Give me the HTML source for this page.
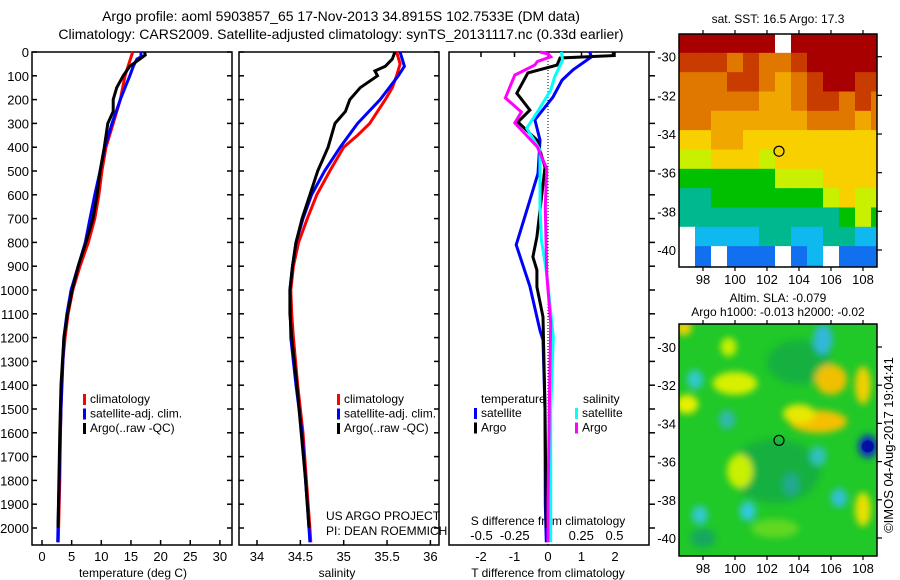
<!DOCTYPE html>
<html><head><meta charset="utf-8">
<style>
html,body{margin:0;padding:0;background:#fff;}
svg{display:block;font-family:"Liberation Sans",sans-serif;}
text{fill:#000;}
</style></head>
<body>
<svg id="chart" width="900" height="580" viewBox="0 0 900 580" xmlns="http://www.w3.org/2000/svg">
<defs>
<clipPath id="clipTop"><rect x="679" y="34" width="198" height="233"/></clipPath>
<clipPath id="clipBot"><rect x="679" y="324" width="198" height="232"/></clipPath>
<filter id="blur" x="-50%" y="-50%" width="200%" height="200%"><feGaussianBlur stdDeviation="3.5"/></filter>
</defs>
<text x="341" y="21" font-size="14" text-anchor="middle">Argo profile: aoml 5903857_65 17-Nov-2013 34.8915S 102.7533E (DM data)</text>
<text x="341" y="39" font-size="14" text-anchor="middle">Climatology: CARS2009. Satellite-adjusted climatology: synTS_20131117.nc (0.33d earlier)</text>
<g id="g"></g>
</svg>
<script>
// ---------- data ----------
const tempClimDepth = [0,100,200,300,400,500,600,700,800,900,1000,1100,1200,1300,1400,1500,1600,1800,2000,2060];
const tempClim      = [15.3,14.0,13.2,12.0,10.8,10.1,9.6,8.9,7.8,6.4,5.2,4.4,3.9,3.5,3.3,3.2,3.1,3.0,2.8,2.75];
const tempSatDepth  = [0,20,30,60,100,150,200,300,400,500,600,700,800,900,1000,1100,1200,1500,2000,2060];
const tempSat       = [16.7,16.7,16.0,15.4,14.8,14.0,13.2,11.8,10.6,9.8,8.9,8.1,7.3,6.1,4.9,4.2,3.7,3.2,2.7,2.65];
const tempArgoDepth = [0,13,60,100,150,200,250,300,400,500,600,700,800,900,1000,1100,1200,1400,1600,2000];
const tempArgo      = [17.3,17.4,14.8,13.7,12.6,12.0,12.0,11.1,10.5,9.8,9.3,8.6,7.4,6.1,5.1,4.3,3.7,3.2,3.0,2.7];

const salClimDepth = [0,50,100,150,200,300,350,400,500,600,700,800,900,1000,1100,1200,1400,1600,1800,2000,2060];
const salClim      = [35.61,35.65,35.61,35.56,35.48,35.30,35.16,35.00,34.84,34.69,34.58,34.48,34.42,34.39,34.40,34.42,34.47,34.53,34.57,34.61,34.62];
const salSatDepth  = [0,60,100,200,300,400,500,600,700,800,900,1000,1200,1400,1600,2000,2060];
const salSat       = [35.65,35.70,35.63,35.42,35.16,34.96,34.78,34.63,34.53,34.45,34.41,34.38,34.39,34.45,34.52,34.60,34.61];
const salArgoDepth = [0,30,60,80,100,150,200,250,300,400,500,600,700,800,900,1000,1100,1200,1400,1600,1800,2000];
const salArgo      = [35.59,35.56,35.48,35.36,35.39,35.19,35.07,35.02,34.90,34.82,34.70,34.61,34.52,34.45,34.41,34.38,34.38,34.40,34.46,34.51,34.56,34.60];

const dTSatDepth  = [0,3,20,75,118,189,285,370,510,650,810,985,1170,1210,1500,1900,2060];
const dTSat       = [1.25,1.25,1.3,0.75,0.42,0.15,-0.39,-0.24,-0.3,-0.6,-0.95,-0.54,-0.24,-0.15,-0.09,-0.08,-0.05];
const dTArgoDepth = [0,15,25,55,88,173,244,294,370,483,593,777,861,916,987,1113,1500,1900,2000];
const dTArgo      = [1.95,1.95,0.36,0.27,-0.6,-0.93,-0.54,-0.9,-0.33,-0.09,-0.18,-0.33,-0.45,-0.33,-0.33,-0.15,-0.09,-0.06,-0.05];
const dSSatDepth  = [0,35,105,160,252,320,412,650,790,930,1197,1500,1900,2060];
const dSSat       = [0.10,0.11,0.05,0.02,-0.08,-0.16,-0.06,-0.06,-0.05,-0.01,0.04,0.02,0.02,0.02];
const dSArgoDepth = [0,8,20,40,55,97,193,252,298,399,490,650,930,1140,1500,1900,2060];
const dSArgo      = [-0.06,0.0,0.02,-0.08,-0.10,-0.25,-0.32,-0.20,-0.25,-0.08,-0.01,-0.02,-0.01,0.02,0.01,0.0,0.0];

const depthTicks = [0,100,200,300,400,500,600,700,800,900,1000,1100,1200,1300,1400,1500,1600,1700,1800,1900,2000];
const tempTicks = [0,5,10,15,20,25,30];
const salTicks = [34,34.5,35,35.5,36];
const salTickLabels = ["34","34.5","35","35.5","36"];
const dTTicks = [-2,-1,0,1,2];
const dSTicks = [-0.5,-0.25,0,0.25,0.5];
const dSTickLabels = ["-0.5","-0.25","0","0.25","0.5"];

const sstGrid = [
[10,10,10,10,10,10,-1,10,10,10,10,10,10],
[9,9,9,8,9,8,8,9,10,10,10,10,10],
[8,8,8,9,9,8,7,8,9,10,10,9,9],
[8,8,8,8,8,7,7,8,9,9,8,9,8],
[8,8,7,7,7,7,7,7,8,8,8,7,8],
[6,6,7,7,6,6,6,6,6,6,6,6,6],
[5,5,6,6,6,5,6,6,6,6,6,6,6],
[4,4,4,4,4,4,5,5,5,6,6,6,6],
[3,3,4,4,4,4,4,4,4,5,6,5,5],
[3,3,3,3,3,3,3,3,3,3,4,5,4],
[-1,2,2,2,2,3,3,2,2,3,3,2,2],
[-1,1,-1,1,1,1,-1,1,2,-1,1,1,1],
[-1,1,-1,1,1,1,-1,1,1,-1,1,1,1]];
const sstColors = ["#ffffff","#1070f0","#10b8f0","#00b890","#00c000","#c8f000","#f8d000","#f0a800","#e07800","#c83c00","#a80000"];

const slaBlobLon = [100,97,105.2,106,108,108.3,97.5,105.5,99.5,97.8,100.8,106.5,105.2,103.5,100.3,108,99.6,96.8,104,102.5,98];
const slaBlobLat = [-31.9,-33,-33.9,-31.7,-32,-35.2,-31.7,-29.6,-33.8,-38.8,-38.6,-37.9,-35.7,-37.2,-36.5,-38.5,-30,-29,-33.5,-39.5,-40];
const slaBlobRx  = [1.4,0.7,1.8,1.0,0.5,0.6,0.5,0.6,0.5,0.5,0.5,0.5,0.5,0.5,0.8,0.5,0.5,0.5,1.0,1.5,0.8];
const slaBlobRy  = [0.6,0.5,0.6,0.8,1.0,0.6,0.5,0.8,0.5,0.5,0.5,0.5,0.5,0.6,0.9,0.9,0.5,0.4,0.5,0.5,0.5];
const slaBlobCol = ["#d8f000","#e8f000","#f4c000","#f0c000","#f0d000","#1030c0","#30c8d0","#30b8d8","#30b8b0","#30c8d0","#30c8e0","#30c0d8","#30c0c0","#20a890","#c8f000","#e8e000","#c8f000","#f0d000","#e8e800","#60d820","#18a860"];

// ---------- helpers ----------
const NS = "http://www.w3.org/2000/svg";
const G = document.getElementById("g");
function mk(tag, attrs, parent){ const e=document.createElementNS(NS,tag); for(const k in attrs) e.setAttribute(k,attrs[k]); (parent||G).appendChild(e); return e; }
function txt(x,y,s,size,anchor,parent){ const t=mk("text",{x:x,y:y,"font-size":size||12,"text-anchor":anchor||"middle"},parent); t.textContent=s; return t; }

const yD = d => 52 + d*0.238;
const xT = v => 42 + v*5.93;
const xS = v => 257 + (v-34)*86.7;
const xdT = v => 548 + v*33.5;
const xdS = v => 548 + v*133;
const xLon = lon => 703 + (lon-98)*16;
const yLat1 = lat => 56.7 + (-30-lat)*19.33;
const yLat2 = lat => 347 + (-30-lat)*19.1;

function series(xs, ds, xf, color, name, width){
  let p = "";
  for(let i=0;i<xs.length;i++){ p += (i?"L":"M") + xf(xs[i]).toFixed(1) + "," + yD(ds[i]).toFixed(1); }
  const e = mk("path",{d:p,fill:"none",stroke:color,"stroke-width":width||3,"stroke-linejoin":"miter"});
  
  
}

function panel(x0,x1,name){
  const r = mk("rect",{x:x0,y:52,width:x1-x0,height:493,fill:"none",stroke:"#000","stroke-width":1.5});
  
  
}

// ---------- panel 1 ----------
panel(32,232,"temperature-panel");
for(const d of depthTicks){
  const y=yD(d);
  mk("line",{x1:32,y1:y,x2:37,y2:y,stroke:"#000","stroke-width":1.5});
  mk("line",{x1:227,y1:y,x2:232,y2:y,stroke:"#000","stroke-width":1.5});
  mk("line",{x1:239,y1:y,x2:244,y2:y,stroke:"#000","stroke-width":1.5});
  mk("line",{x1:434,y1:y,x2:439,y2:y,stroke:"#000","stroke-width":1.5});
  mk("line",{x1:649,y1:y,x2:655,y2:y,stroke:"#000","stroke-width":1.5});
  const t = txt(29,y+5,String(d),13,"end");
  
  
}
for(const v of tempTicks){
  const x=xT(v);
  mk("line",{x1:x,y1:545,x2:x,y2:540,stroke:"#000","stroke-width":1.5});
  const t=txt(x,561,String(v),13);
  
  
}
txt(133,577,"temperature (deg C)",12);
series(tempClim,tempClimDepth,xT,"#ff0000","temperature-climatology-line");
series(tempSat,tempSatDepth,xT,"#0000ff","temperature-satellite-line");
series(tempArgo,tempArgoDepth,xT,"#000000","temperature-argo-line");

// ---------- panel 2 ----------
panel(239,439,"salinity-panel");
salTicks.forEach((v,i)=>{
  const x=xS(v);
  mk("line",{x1:x,y1:545,x2:x,y2:540,stroke:"#000","stroke-width":1.5});
  const t=txt(x,561,salTickLabels[i],13);
  
  
});
txt(337,577,"salinity",12);
series(salClim,salClimDepth,xS,"#ff0000","salinity-climatology-line");
series(salSat,salSatDepth,xS,"#0000ff","salinity-satellite-line");
series(salArgo,salArgoDepth,xS,"#000000","salinity-argo-line");
txt(326,520,"US ARGO PROJECT",12,"start");
txt(326,535,"PI: DEAN ROEMMICH",12,"start");

function legend(x,y,items,prefix){
  items.forEach((it,i)=>{
    const r=mk("rect",{x:x,y:y+i*14.5-9,width:3,height:11,fill:it[1]});
    
    
    const t=txt(x+7,y+i*14.5,it[0],12,"start");
    
    
  });
}
legend(83,403,[["climatology","#ff0000"],["satellite-adj. clim.","#0000ff"],["Argo(..raw -QC)","#000000"]],"temperature");
legend(337,403,[["climatology","#ff0000"],["satellite-adj. clim.","#0000ff"],["Argo(..raw -QC)","#000000"]],"salinity");

// ---------- panel 3 ----------
panel(449,649,"difference-panel");
mk("line",{x1:548,y1:52,x2:548,y2:545,stroke:"#000","stroke-width":1,"stroke-dasharray":"1,2"});
dTTicks.forEach(v=>{
  const x=xdT(v);
  mk("line",{x1:x,y1:52,x2:x,y2:57,stroke:"#000","stroke-width":1.5});
  const t=txt(x,561,String(v),13);
  
  
});
dSTicks.forEach((v,i)=>{
  const t=txt(xdS(v),540,dSTickLabels[i],13);
  
  
});
txt(548,525,"S difference from climatology",12);
txt(548,577,"T difference from climatology",12);
series(dTSat,dTSatDepth,xdT,"#0000ff","tdiff-satellite-line");
series(dTArgo,dTArgoDepth,xdT,"#000000","tdiff-argo-line");
series(dSSat,dSSatDepth,xdS,"#00ffff","sdiff-satellite-line");
series(dSArgo,dSArgoDepth,xdS,"#ff00ff","sdiff-argo-line");
txt(481,403,"temperature",12,"start");
txt(583,403,"salinity",12,"start");
legend(474,417,[["satellite","#0000ff"],["Argo","#000000"]],"tdiff");
legend(575,417,[["satellite","#00ffff"],["Argo","#ff00ff"]],"sdiff");

// ---------- top map ----------
txt(778,23,"sat. SST: 16.5 Argo: 17.3",12);
const topG = mk("g",{"clip-path":"url(#clipTop)"});


sstGrid.forEach((row,r)=>{
  row.forEach((v,c)=>{
    const lon0=96.5+c, lat0=-28.8-r;
    const x=xLon(lon0), y=yLat1(lat0);
    const cell=mk("rect",{x:x,y:y,width:xLon(lon0+1)-x+0.5,height:yLat1(lat0-1)-y+0.5,fill:sstColors[v<0?0:v]},topG);
    
    
  });
});
mk("rect",{x:679,y:34,width:198,height:233,fill:"none",stroke:"#000","stroke-width":1.5});
mk("circle",{cx:xLon(102.75),cy:yLat1(-34.89),r:5,fill:"none",stroke:"#000","stroke-width":1.2});

// ---------- bottom map ----------
txt(778,302,"Altim. SLA: -0.079",12);
txt(778,316,"Argo h1000: -0.013 h2000: -0.02",12);
const botG = mk("g",{"clip-path":"url(#clipBot)"});


mk("rect",{x:679,y:324,width:198,height:232,fill:"#20c828"},botG);
const blobG = mk("g",{filter:"url(#blur)"},botG);
mk("ellipse",{cx:xLon(102.5),cy:yLat2(-36.5),rx:45,ry:32,fill:"#18b040"},blobG);
mk("ellipse",{cx:xLon(104),cy:yLat2(-30.8),rx:32,ry:22,fill:"#18b040"},blobG);
slaBlobLon.forEach((lon,i)=>{
  const b=mk("ellipse",{cx:xLon(lon),cy:yLat2(slaBlobLat[i]),rx:slaBlobRx[i]*16,ry:slaBlobRy[i]*19,fill:slaBlobCol[i]},blobG);
  
  
});
mk("ellipse",{cx:xLon(108.3),cy:yLat2(-35.2),rx:6,ry:6,fill:"#0010a0"},botG);
mk("rect",{x:679,y:324,width:198,height:232,fill:"none",stroke:"#000","stroke-width":1.5});
mk("circle",{cx:xLon(102.75),cy:yLat2(-34.89),r:5,fill:"none",stroke:"#000","stroke-width":1.2});

const lonTicks=[98,100,102,104,106,108];
const latTicks=[-30,-32,-34,-36,-38,-40];
for(const lon of lonTicks){
  const x=xLon(lon);
  [[34,267],[324,556]].forEach(([t,b])=>{
    mk("line",{x1:x,y1:t-4,x2:x,y2:t,stroke:"#000","stroke-width":1.2});
    mk("line",{x1:x,y1:b,x2:x,y2:b+4,stroke:"#000","stroke-width":1.2});
  });
  const a=txt(x,284,String(lon),13);  
  const b=txt(x,573,String(lon),13);  
}
for(const lat of latTicks){
  const y1=yLat1(lat), y2=yLat2(lat);
  mk("line",{x1:877,y1:y1,x2:882,y2:y1,stroke:"#000","stroke-width":1.2});
  mk("line",{x1:877,y1:y2,x2:882,y2:y2,stroke:"#000","stroke-width":1.2});
  const a=txt(676,y1+5,String(lat),13,"end");  
  const b=txt(676,y2+5,String(lat),13,"end");  
}
const cr=txt(0,0,"©IMOS 04-Aug-2017 19:04:41",13);
cr.setAttribute("transform","translate(893,445) rotate(-90)");


</script>
</body></html>
